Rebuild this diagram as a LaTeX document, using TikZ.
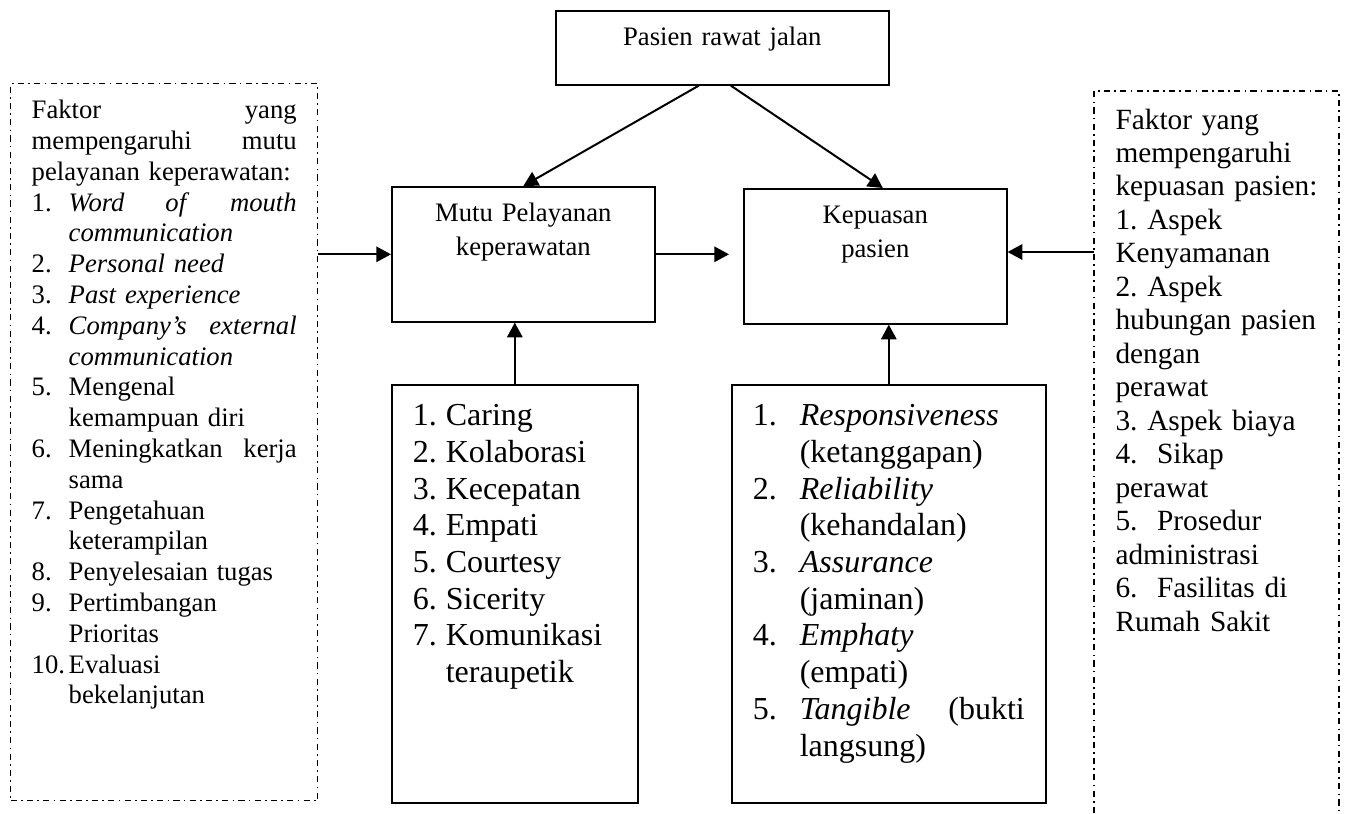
\documentclass[tikz,border=0pt]{standalone}
\usepackage{fontspec}
\setmainfont{Liberation Serif}
\usetikzlibrary{arrows.meta,calc}
\frenchspacing

\tikzstyle{kotak}=[draw=black,line width=0.6pt,inner xsep=7.875pt,inner ysep=0pt,anchor=north west]
\tikzstyle{judul}=[kotak,inner xsep=0pt,align=center,font=\fontsize{10pt}{12.75pt}\selectfont,text height=13.125pt]
\tikzstyle{daftar}=[kotak,align=left,text height=15.375pt,text depth=141.375pt,font=\fontsize{12pt}{13.76pt}\selectfont]
\tikzstyle{putus}=[draw=black,line width=0.55pt,dash pattern=on 2.3pt off 1.6pt on 0.6pt off 1.6pt]
\tikzstyle{panah}=[draw=black,line width=0.75pt,-{Triangle[length=5.5pt,width=5.75pt]}]

\newcommand\nmr[2]{\makebox[#1][l]{#2}}

\begin{document}
\begin{tikzpicture}[x=0.375pt,y=-0.375pt]
\useasboundingbox (0,0) rectangle (1345,813);

% kotak utama
\node[judul,text width=124.875pt,text depth=14.625pt] (pasien) at (555,10) {Pasien rawat jalan};
\node[judul,text width=98.625pt,text depth=37.5pt] (mutu) at (391,186) {Mutu Pelayanan\\keperawatan};
\node[judul,text width=98.625pt,text depth=37.5pt] (kepuasan) at (743,188) {Kepuasan\\pasien};

% faktor mutu pelayanan
\node[kotak,putus,align=left,text width=99.375pt,text height=13.125pt,text depth=255.75pt,
      font=\fontsize{10pt}{11.55pt}\selectfont] (kiri) at (10,83) {%
Faktor\hfill yang\\
mempengaruhi\hfill mutu\\
pelayanan keperawatan:\\
\nmr{13.875pt}{1.}\textit{Word}\hfill\textit{of}\hfill\textit{mouth}\\
\hspace*{13.875pt}\textit{communication}\\
\nmr{13.875pt}{2.}\textit{Personal need}\\
\nmr{13.875pt}{3.}\textit{Past experience}\\
\nmr{13.875pt}{4.}\textit{Company’s}\hfill\textit{external}\\
\hspace*{13.875pt}\textit{communication}\\
\nmr{13.875pt}{5.}Mengenal\\
\hspace*{13.875pt}kemampuan diri\\
\nmr{13.875pt}{6.}Meningkatkan\hfill kerja\\
\hspace*{13.875pt}sama\\
\nmr{13.875pt}{7.}Pengetahuan\\
\hspace*{13.875pt}keterampilan\\
\nmr{13.875pt}{8.}Penyelesaian tugas\\
\nmr{13.875pt}{9.}Pertimbangan\\
\hspace*{13.875pt}Prioritas\\
\nmr{13.875pt}{10.}Evaluasi\\
\hspace*{13.875pt}bekelanjutan};

% indikator mutu
\node[daftar,text width=76.5pt] (daftarA) at (391,384) {%
\nmr{12.375pt}{1.}Caring\\
\nmr{12.375pt}{2.}Kolaborasi\\
\nmr{12.375pt}{3.}Kecepatan\\
\nmr{12.375pt}{4.}Empati\\
\nmr{12.375pt}{5.}Courtesy\\
\nmr{12.375pt}{6.}Sicerity\\
\nmr{12.375pt}{7.}Komunikasi\\
\hspace*{12.375pt}teraupetik};

% indikator kepuasan
\node[daftar,text width=102pt] (daftarB) at (731,384) {%
\nmr{17.625pt}{1.}\textit{Responsiveness}\\
\hspace*{17.625pt}(ketanggapan)\\
\nmr{17.625pt}{2.}\textit{Reliability}\\
\hspace*{17.625pt}(kehandalan)\\
\nmr{17.625pt}{3.}\textit{Assurance}\\
\hspace*{17.625pt}(jaminan)\\
\nmr{17.625pt}{4.}\textit{Emphaty}\\
\hspace*{17.625pt}(empati)\\
\nmr{17.625pt}{5.}\textit{Tangible}\hfill(bukti\\
\hspace*{17.625pt}langsung)};

% faktor kepuasan
\draw[putus] (1094,813) -- (1094,91) -- (1339,91) -- (1339,813);
\coordinate (kanan) at (1094,252);
\node[inner sep=0pt,anchor=base west,text width=85pt,align=left,
      font=\fontsize{11pt}{12.56pt}\selectfont] (kananteks) at (1115,129) {%
Faktor yang\\
mempengaruhi\\
kepuasan pasien:\\
1. Aspek\\
Kenyamanan\\
2. Aspek\\
hubungan pasien\\
dengan\\
perawat\\
3. Aspek biaya\\
4.\ \ Sikap\\
perawat\\
5.\ \ Prosedur\\
administrasi\\
6.\ \ Fasilitas di\\
Rumah Sakit};

% panah
\draw[panah] ($(pasien.south)+(-23.5,0)$) -- (mutu.north);
\draw[panah] ($(pasien.south)+(8.5,0)$) -- ($(kepuasan.north)+(7.5,0)$);
\draw[panah] (kiri.east |- mutu.west) -- (mutu.west);
\draw[panah,shorten >=5.25pt] (mutu.east) -- (mutu.east -| kepuasan.west);
\draw[panah] (kanan) -- (kanan -| kepuasan.east);
\foreach \a/\b in {daftarA/mutu,daftarB/kepuasan}
  \draw[panah] (\a.north) -- (\a.north |- \b.south);
\end{tikzpicture}
\end{document}
